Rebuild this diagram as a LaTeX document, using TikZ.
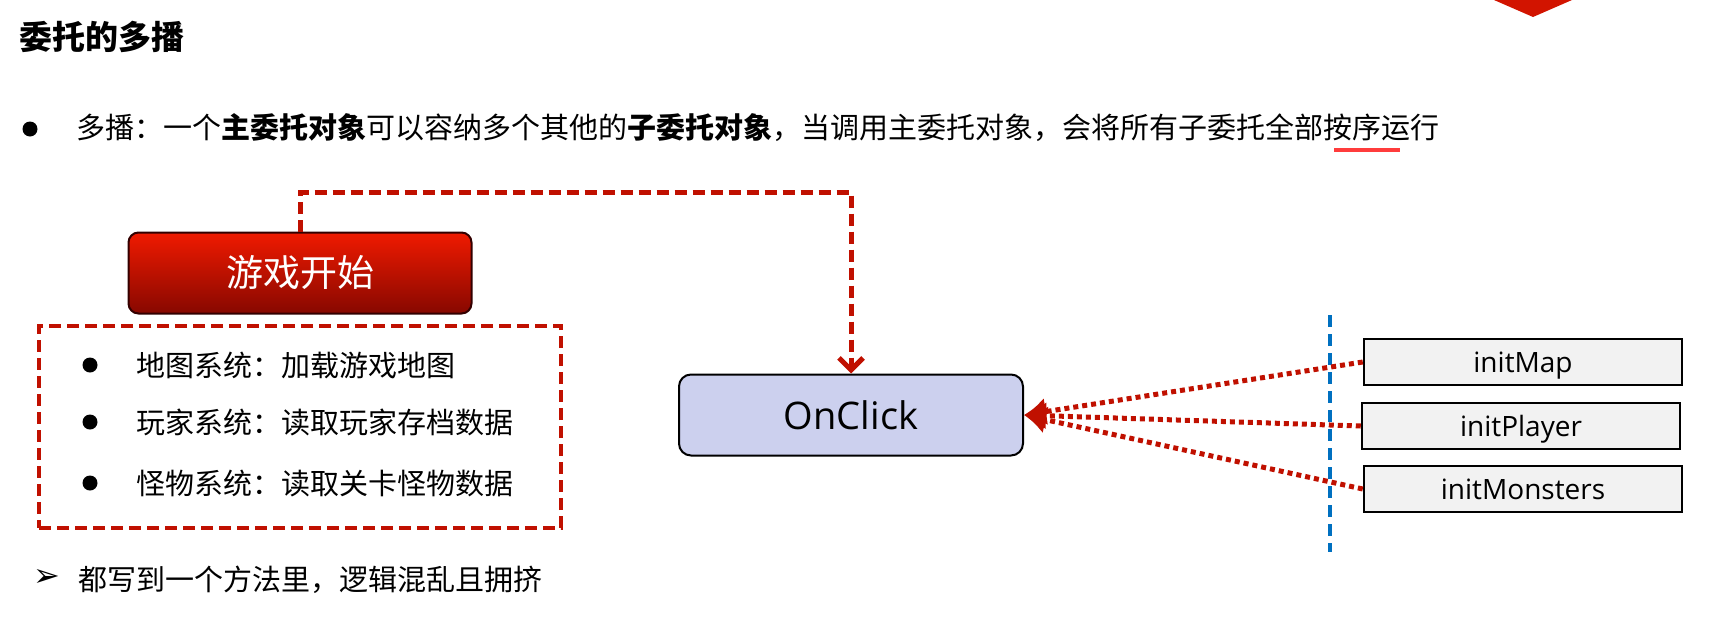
\documentclass[tikz,border=0pt]{standalone}
\usepackage{fontspec}
\setmainfont{Noto Sans CJK SC}
\newfontfamily\latinfont{Open Sans}
\newfontfamily\symbolfont{DejaVu Sans}
\usetikzlibrary{arrows.meta}
\definecolor{darkred}{RGB}{192,16,0}
\definecolor{startred}{RGB}{240,26,0}
\definecolor{startdark}{RGB}{135,8,0}
\definecolor{lavender}{RGB}{204,208,238}
\definecolor{lightgray}{RGB}{242,242,242}
\definecolor{sepblue}{RGB}{0,112,192}
\definecolor{markred}{RGB}{255,60,60}
\definecolor{cornerred}{RGB}{210,20,0}

\begin{document}
\begin{tikzpicture}
        [
        x=1pt,y=-1pt,
        heading/.style={anchor=west,inner sep=0pt,font=\fontsize{33}{40}\selectfont\bfseries},
        line/.style={anchor=west,inner sep=0pt,font=\fontsize{29}{35}\selectfont},
        dot/.style={circle,fill=black,inner sep=0pt,minimum size=15pt},
        startbox/.style={rounded corners=10pt,draw=black!80!red,line width=2pt,top color=startred,middle color=startred!95!black,bottom color=startdark,minimum width=343pt,minimum height=81pt,text=white,font=\fontsize{37}{44}\selectfont},
        groupbox/.style={draw=darkred,line width=4.5pt,dash pattern=on 12pt off 6pt,minimum width=522pt,minimum height=202pt},
        callbox/.style={rounded corners=12pt,draw=black,line width=2pt,fill=lavender,minimum width=344pt,minimum height=81pt,font=\latinfont\fontsize{38}{46}\selectfont},
        funcbox/.style={draw=black,line width=2.5pt,fill=lightgray,minimum width=318pt,minimum height=46pt,text height=20pt,text depth=0pt,font=\latinfont\fontsize{28}{34}\selectfont},
        link/.style={draw=darkred,line width=5pt,dash pattern=on 12pt off 6pt,-{Straight Barb[length=12pt,width=24pt]}},
        call/.style={draw=darkred,line width=5pt,dash pattern=on 5pt off 4pt,-{Latex[length=22pt,width=28pt]}},
        separator/.style={draw=sepblue,line width=4.5pt,dash pattern=on 12pt off 7pt}
        ]
    \useasboundingbox (0,0) rectangle (1712,624);
    \fill[cornerred] (1494,0) -- (1572,0) -- (1533,17) -- cycle;
    % heading and first point
    \node[heading] (title) at (19,37) {委托的多播};
    \node[dot] (d0) at (30,129) {};
    \node[line] (intro) at (76,128) {多播：一个\textbf{主委托对象}可以容纳多个其他的\textbf{子委托对象}，当调用主委托对象，会将所有子委托全部按序运行};
    \draw[markred,line width=4pt] (1334,150) -- (1400,150);
    % start of game
    \node[startbox] (start) at (300,273) {游戏开始};
    \node[groupbox] (systems) at (300,427) {};
    \node[dot] (d1) at (90,365) {};
    \node[line] (map) at (136,365) {地图系统：加载游戏地图};
    \node[dot] (d2) at (90,422) {};
    \node[line] (player) at (136,422) {玩家系统：读取玩家存档数据};
    \node[dot] (d3) at (90,483) {};
    \node[line] (monster) at (136,483) {怪物系统：读取关卡怪物数据};
    % delegate
    \node[callbox] (onclick) at (851,415) {OnClick};
    \coordinate (bend) at (851,192);
    \draw[link] (start.north) |- (bend) -- (onclick.north);
    \coordinate (septop) at (1330,315);
    \coordinate (sepbottom) at (1330,552);
    \draw[separator] (septop) -- (sepbottom);
    \node[funcbox] (initmap) at (1523,362) {initMap};
    \node[funcbox] (initplayer) at (1521,426) {initPlayer};
    \node[funcbox] (initmonsters) at (1523,489) {initMonsters};
    \draw[call] (initmap.west) -- (onclick.east);
    \draw[call] (initplayer.west) -- (onclick.east);
    \draw[call] (initmonsters.west) -- (onclick.east);
    % summary
    \node[anchor=west,inner sep=0pt,font=\symbolfont\fontsize{32}{38}\selectfont] (pointer) at (33,578) {➢};
    \node[line] (summary) at (78,580) {都写到一个方法里，逻辑混乱且拥挤};
    \end{tikzpicture}
\end{document}
